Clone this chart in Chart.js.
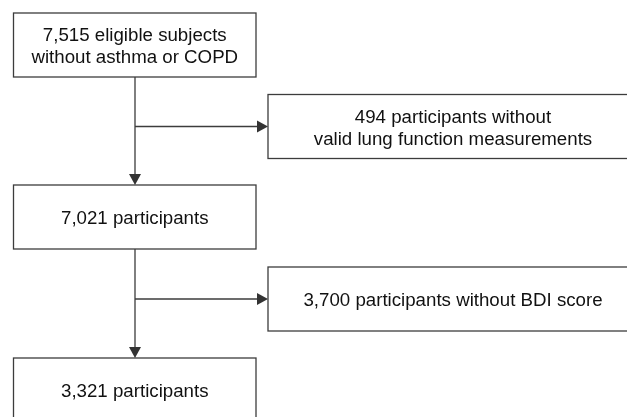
<!DOCTYPE html>
<html>
<head>
<meta charset="utf-8">
<script src="https://cdn.jsdelivr.net/npm/chart.js@4"></script>
<style>
  html, body { margin: 0; padding: 0; background: #fff; }
  #wrap { width: 627px; height: 417px; }
</style>
</head>
<body>
<div id="wrap"><canvas id="myChart" width="627" height="417"></canvas></div>
<script>
// Flow of participants: main stages and exclusions
const stageCounts = [7515, 7021, 3321];
const stageText = ['eligible subjects\nwithout asthma or COPD', 'participants', 'participants'];
const excludedCounts = [494, 3700];
const excludedText = ['participants without\nvalid lung function measurements', 'participants without BDI score'];

const fmt = n => n.toLocaleString('en-US');

// layout (in scale units, y grows downward)
const layout = {
    mainBox: { x0: 13.5, x1: 256 },
    sideBox: { x0: 268, x1: 638 },
    mainTops: [13, 185, 358],
    sideTops: [94.5, 267],
    boxH: 64,
    trunkX: 135,
    lineH: 22
};

const flowPlugin = {
    id: 'flow',
    afterDraw(chart) {
        const ctx = chart.ctx;
        const xs = chart.scales.x;
        const ys = chart.scales.y;
        const X = v => xs.getPixelForValue(v);
        const Y = v => ys.getPixelForValue(v);

        ctx.save();
        ctx.lineWidth = 1.3;

        function box(x0, x1, top, text) {
            const y0 = Y(top), y1 = Y(top + layout.boxH);
            ctx.strokeStyle = '#3c3c3c';
            ctx.strokeRect(X(x0), y0, X(x1) - X(x0), y1 - y0);
            const lines = text.split('\n');
            const cx = (X(x0) + X(x1)) / 2;
            const cy = (y0 + y1) / 2;
            ctx.fillStyle = '#111';
            ctx.font = '18.7px "Liberation Sans", Arial, sans-serif';
            ctx.textAlign = 'center';
            ctx.textBaseline = 'middle';
            lines.forEach((l, i) => {
                const off = (i - (lines.length - 1) / 2) * layout.lineH;
                ctx.fillText(l, cx, cy + off + 2);
            });
        }

        function arrowDown(x, yTip) {
            ctx.fillStyle = '#333';
            ctx.beginPath();
            ctx.moveTo(X(x), Y(yTip));
            ctx.lineTo(X(x) - 6, Y(yTip) - 11);
            ctx.lineTo(X(x) + 6, Y(yTip) - 11);
            ctx.closePath();
            ctx.fill();
        }

        function arrowRight(xTip, y) {
            ctx.fillStyle = '#333';
            ctx.beginPath();
            ctx.moveTo(X(xTip), Y(y));
            ctx.lineTo(X(xTip) - 11, Y(y) - 6);
            ctx.lineTo(X(xTip) - 11, Y(y) + 6);
            ctx.closePath();
            ctx.fill();
        }

        stageCounts.forEach((n, i) => {
            box(layout.mainBox.x0, layout.mainBox.x1, layout.mainTops[i], fmt(n) + ' ' + stageText[i]);
        });
        excludedCounts.forEach((n, i) => {
            box(layout.sideBox.x0, layout.sideBox.x1, layout.sideTops[i], fmt(n) + ' ' + excludedText[i]);
        });

        // connectors
        for (let i = 0; i < stageCounts.length - 1; i++) {
            const yFrom = layout.mainTops[i] + layout.boxH;
            const yTo = layout.mainTops[i + 1];
            const yBranch = layout.sideTops[i] + layout.boxH / 2;
            ctx.strokeStyle = '#3c3c3c';
            ctx.beginPath();
            ctx.moveTo(X(layout.trunkX), Y(yFrom));
            ctx.lineTo(X(layout.trunkX), Y(yTo) - 8);
            ctx.moveTo(X(layout.trunkX), Y(yBranch));
            ctx.lineTo(X(layout.sideBox.x0) - 8, Y(yBranch));
            ctx.stroke();
            arrowDown(layout.trunkX, yTo);
            arrowRight(layout.sideBox.x0, yBranch);
        }
        ctx.restore();
    }
};

new Chart(document.getElementById('myChart'), {
    type: 'scatter',
    data: { datasets: [{ data: [], pointRadius: 0 }] },
    options: {
        responsive: false,
        animation: false,
        layout: { padding: 0 },
        plugins: { legend: { display: false }, tooltip: { enabled: false } },
        scales: {
            x: { type: 'linear', min: 0, max: 627, display: false },
            y: { type: 'linear', min: 0, max: 417, reverse: true, display: false }
        }
    },
    plugins: [flowPlugin]
});
</script>
</body>
</html>
